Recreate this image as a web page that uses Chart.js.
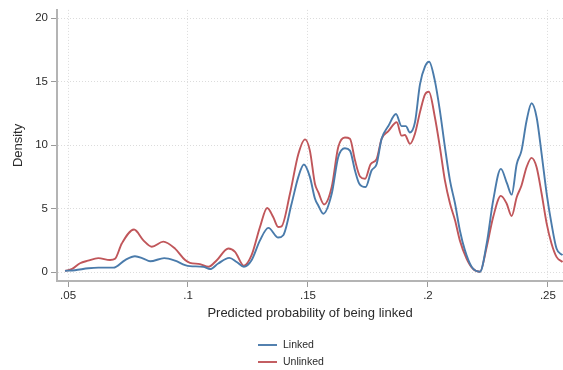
<!DOCTYPE html>
<html>
<head>
<meta charset="utf-8">
<script src="https://cdn.jsdelivr.net/npm/chart.js@4/dist/chart.umd.min.js"></script>
<style>
  html, body { margin: 0; padding: 0; background: #ffffff; }
  #wrap { position: relative; width: 563px; height: 370px; }
</style>
</head>
<body>
<div id="wrap"><canvas id="c" width="563" height="370"></canvas></div>
<script>
// ---- data ----
const linkedX = [0.04875,0.0529,0.0585,0.0626,0.0689,0.0738,0.0779,0.0814,0.0842,0.0901,0.0946,0.0988,0.1008,0.1064,0.1092,0.1126,0.1172,0.1203,0.1233,0.1265,0.1300,0.1335,0.1376,0.1397,0.1432,0.1460,0.1483,0.1508,0.1529,0.1543,0.1564,0.1599,0.1626,0.1654,0.1675,0.1696,0.1714,0.1740,0.1765,0.1786,0.1807,0.1835,0.1867,0.1890,0.1908,0.1925,0.1946,0.1967,0.1988,0.2005,0.2029,0.2050,0.2071,0.2092,0.2113,0.2133,0.2154,0.2182,0.2217,0.2245,0.2272,0.2304,0.2330,0.2349,0.2370,0.2390,0.2411,0.2432,0.2453,0.2474,0.2495,0.2515,0.2536,0.2561];
const linkedY = [0.1,0.15,0.3,0.35,0.35,0.95,1.25,1.07,0.85,1.1,0.9,0.55,0.47,0.42,0.24,0.68,1.12,0.8,0.42,0.94,2.5,3.48,2.72,2.9,5.4,7.5,8.47,7.5,5.8,5.25,4.6,6.17,9.05,9.75,9.57,8.0,6.96,6.7,8.0,8.5,10.5,11.5,12.45,11.5,11.5,11.0,11.8,14.8,16.2,16.57,15.06,12.7,9.83,7.2,5.4,3.3,1.73,0.42,0.03,2.25,5.65,8.13,6.96,6.1,8.5,9.57,11.9,13.3,12.2,9.3,6.17,3.82,1.86,1.33];
const unlinkedX = [0.04875,0.0517,0.0550,0.0583,0.0626,0.0675,0.0696,0.0724,0.0775,0.0814,0.0849,0.0897,0.0946,0.0988,0.1008,0.1050,0.1085,0.1120,0.1168,0.1196,0.1233,0.1265,0.1300,0.1330,0.1355,0.1376,0.1390,0.1425,0.1460,0.1488,0.1508,0.1529,0.1543,0.1567,0.1599,0.1626,0.1654,0.1675,0.1696,0.1717,0.1738,0.1761,0.1786,0.1807,0.1835,0.1870,0.1890,0.1904,0.1925,0.1946,0.1967,0.1988,0.2004,0.2029,0.2050,0.2071,0.2092,0.2113,0.2133,0.2161,0.2186,0.2217,0.2245,0.2272,0.2304,0.2328,0.2349,0.2370,0.2390,0.2411,0.2432,0.2453,0.2474,0.2495,0.2515,0.2536,0.2561];
const unlinkedY = [0.1,0.25,0.7,0.9,1.1,0.95,1.05,2.25,3.35,2.5,2.0,2.4,1.85,0.95,0.73,0.63,0.42,0.94,1.86,1.6,0.5,1.33,3.55,5.05,4.34,3.55,3.6,6.17,9.3,10.45,9.57,6.96,6.3,5.33,6.7,9.83,10.6,10.5,8.8,7.53,7.35,8.5,8.9,10.5,11.1,11.8,10.75,10.8,10.1,10.9,12.6,14.0,14.2,12.2,9.83,7.2,5.4,4.08,2.5,1.07,0.3,0.03,1.98,4.34,6.0,5.4,4.42,5.9,6.82,8.26,9.0,8.26,6.17,3.82,2.25,1.2,0.8];
const seriesNames = ['Linked', 'Unlinked'];
const xTicks = [0.05, 0.10, 0.15, 0.20, 0.25];
const xTickLabels = ['.05', '.1', '.15', '.2', '.25'];
const yTicks = [0, 5, 10, 15, 20];
const yTickLabels = ['0', '5', '10', '15', '20'];
const xTitle = 'Predicted probability of being linked';
const yTitle = 'Density';

// ---- styling ----
const FONT = '"Liberation Sans", Arial, Helvetica, sans-serif';
const TEXT = '#2b2b2b';
const COLORS = ['#4a7bab', '#c0565a'];

const toPts = (xs, ys) => xs.map((x, i) => ({ x: x, y: ys[i] }));

const legendPlugin = {
  id: 'stackedLegend',
  afterDraw(chart, args, opts) {
    const ctx = chart.ctx;
    ctx.save();
    ctx.font = opts.fontSize + 'px ' + FONT;
    ctx.textBaseline = 'middle';
    ctx.textAlign = 'left';
    chart.data.datasets.forEach((ds, i) => {
      const y = opts.y + i * opts.rowGap;
      ctx.strokeStyle = ds.borderColor;
      ctx.lineWidth = ds.borderWidth;
      ctx.beginPath();
      ctx.moveTo(opts.x, y);
      ctx.lineTo(opts.x + opts.lineLen, y);
      ctx.stroke();
      ctx.fillStyle = TEXT;
      ctx.fillText(ds.label, opts.x + opts.lineLen + opts.gap, y);
    });
    ctx.restore();
  }
};

new Chart(document.getElementById('c'), {
  type: 'line',
  data: {
    datasets: [
      { label: seriesNames[0], data: toPts(linkedX, linkedY), borderColor: COLORS[0], backgroundColor: COLORS[0], borderWidth: 1.9, pointRadius: 0, cubicInterpolationMode: 'monotone', fill: false },
      { label: seriesNames[1], data: toPts(unlinkedX, unlinkedY), borderColor: COLORS[1], backgroundColor: COLORS[1], borderWidth: 1.9, pointRadius: 0, cubicInterpolationMode: 'monotone', fill: false }
    ]
  },
  options: {
    responsive: false,
    animation: false,
    devicePixelRatio: 1,
    layout: { padding: { top: 8, right: 0, bottom: 49, left: 0 } },
    plugins: {
      legend: { display: false },
      tooltip: { enabled: false },
      stackedLegend: { x: 258, y: 345, rowGap: 17, lineLen: 19, gap: 6, fontSize: 10.5 }
    },
    scales: {
      x: {
        type: 'linear',
        min: 0.0454,
        max: 0.2563,
        afterBuildTicks: (s) => { s.ticks = xTicks.map(v => ({ value: v })); },
        afterFit: (s) => { s.height = 40; },
        ticks: {
          autoSkip: false,
          maxRotation: 0,
          padding: 2,
          color: TEXT,
          font: { family: FONT, size: 11.5 },
          callback: (v) => { const i = xTicks.findIndex(t => Math.abs(t - v) < 1e-9); return i >= 0 ? xTickLabels[i] : ''; }
        },
        grid: { color: '#dcdcdc', lineWidth: 1, tickLength: 6, tickColor: '#9a9a9a', tickBorderDash: [] },
        border: { display: true, color: '#b4b4b4', width: 2, dash: [1, 2] },
        title: { display: true, text: xTitle, color: TEXT, font: { family: FONT, size: 13 }, padding: { top: 0, bottom: 0 } }
      },
      y: {
        type: 'linear',
        min: -0.7,
        max: 20.65,
        afterBuildTicks: (s) => { s.ticks = yTicks.map(v => ({ value: v })); },
        afterFit: (s) => { s.width = 57; },
        ticks: {
          padding: 3,
          color: TEXT,
          font: { family: FONT, size: 11.5 },
          callback: (v) => { const i = yTicks.indexOf(v); return i >= 0 ? yTickLabels[i] : ''; }
        },
        grid: { color: '#dcdcdc', lineWidth: 1, tickLength: 6, tickColor: '#9a9a9a', tickBorderDash: [] },
        border: { display: true, color: '#b4b4b4', width: 2, dash: [1, 2] },
        title: { display: true, text: yTitle, color: TEXT, font: { family: FONT, size: 13 }, padding: { top: 11, bottom: 0 } }
      }
    }
  },
  plugins: [legendPlugin]
});
</script>
</body>
</html>
